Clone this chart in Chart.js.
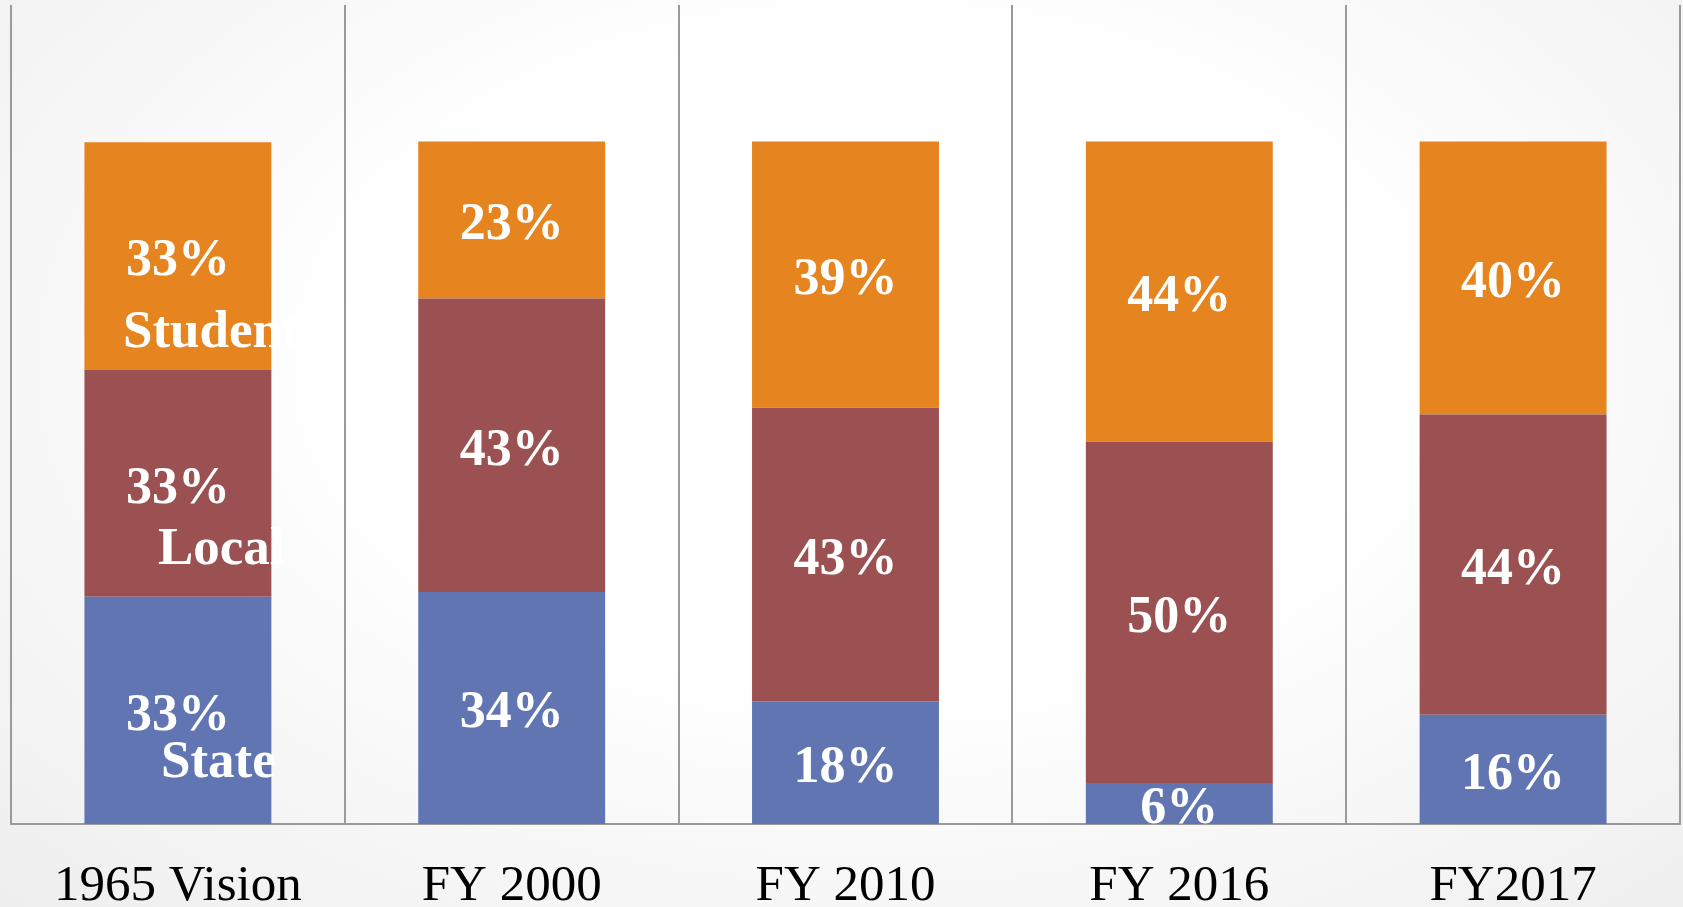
<!DOCTYPE html>
<html>
<head>
<meta charset="utf-8">
<script src="https://cdn.jsdelivr.net/npm/chart.js@4.4.1/dist/chart.umd.min.js"></script>
<style>
  html, body { margin: 0; padding: 0; width: 1683px; height: 907px; overflow: hidden; }
  body { background: radial-gradient(ellipse at 52% 40%, #ffffff 42%, #eeeeee 100%); }
  #wrap { position: relative; width: 1683px; height: 907px; }
</style>
</head>
<body>
<div id="wrap"><canvas id="c"></canvas></div>
<script>
// ---- data ----
const categories = ['1965 Vision', 'FY 2000', 'FY 2010', 'FY 2016', 'FY2017'];
const seriesNames = ['State', 'Local', 'Student'];
const stateShare   = [33.3, 34, 18, 6, 16];
const localShare   = [33.3, 43, 43, 50, 44];
const studentShare = [33.3, 23, 39, 44, 40];
const yMin = 0;
const yMax = 120;

// ---- styles / label placement (not data) ----
const colors = ['#6075B2', '#9B5151', '#E6841F'];
const pctDy = 6;
const nameDx = [-17, -20, -55];
const nameDy = [53, 67, 77];

const segLabels = {
  id: 'segLabels',
  afterDatasetsDraw(chart) {
    const ctx = chart.ctx;
    ctx.save();
    ctx.fillStyle = '#ffffff';
    ctx.textBaseline = 'middle';
    chart.data.datasets.forEach((ds, i) => {
      const meta = chart.getDatasetMeta(i);
      meta.data.forEach((bar, j) => {
        const cy = (bar.y + bar.base) / 2;
        ctx.font = 'bold 52px "Liberation Serif"';
        ctx.textAlign = 'center';
        ctx.fillText(Math.round(ds.data[j]) + '%', bar.x, cy + pctDy);
        if (j === 0) {
          ctx.font = 'bold 53px "Liberation Serif"';
          ctx.textAlign = 'left';
          ctx.fillText(ds.label, bar.x + nameDx[i], cy + nameDy[i]);
        }
      });
    });
    ctx.restore();
  }
};

new Chart(document.getElementById('c'), {
  type: 'bar',
  data: {
    labels: categories,
    datasets: [
      { label: seriesNames[0], data: stateShare,   backgroundColor: colors[0] },
      { label: seriesNames[1], data: localShare,   backgroundColor: colors[1] },
      { label: seriesNames[2], data: studentShare, backgroundColor: colors[2] }
    ]
  },
  options: {
    responsive: true,
    maintainAspectRatio: false,
    animation: false,
    layout: { padding: { left: 11, right: 3, top: 5, bottom: 0 } },
    datasets: { bar: { categoryPercentage: 1, barPercentage: 0.56, borderWidth: 0 } },
    plugins: { legend: { display: false }, tooltip: { enabled: false } },
    scales: {
      x: {
        stacked: true,
        grid: { display: true, offset: true, color: '#9a9a9a', lineWidth: 2, drawTicks: false },
        border: { display: true, color: '#9a9a9a', width: 2 },
        ticks: {
          color: '#000000',
          padding: 32,
          maxRotation: 0,
          autoSkip: false,
          font: { family: '"Liberation Serif"', size: 51 }
        },
        afterFit: (scale) => { scale.height = 83; }
      },
      y: {
        stacked: true,
        display: false,
        min: yMin,
        max: yMax
      }
    }
  },
  plugins: [segLabels]
});
</script>
</body>
</html>
